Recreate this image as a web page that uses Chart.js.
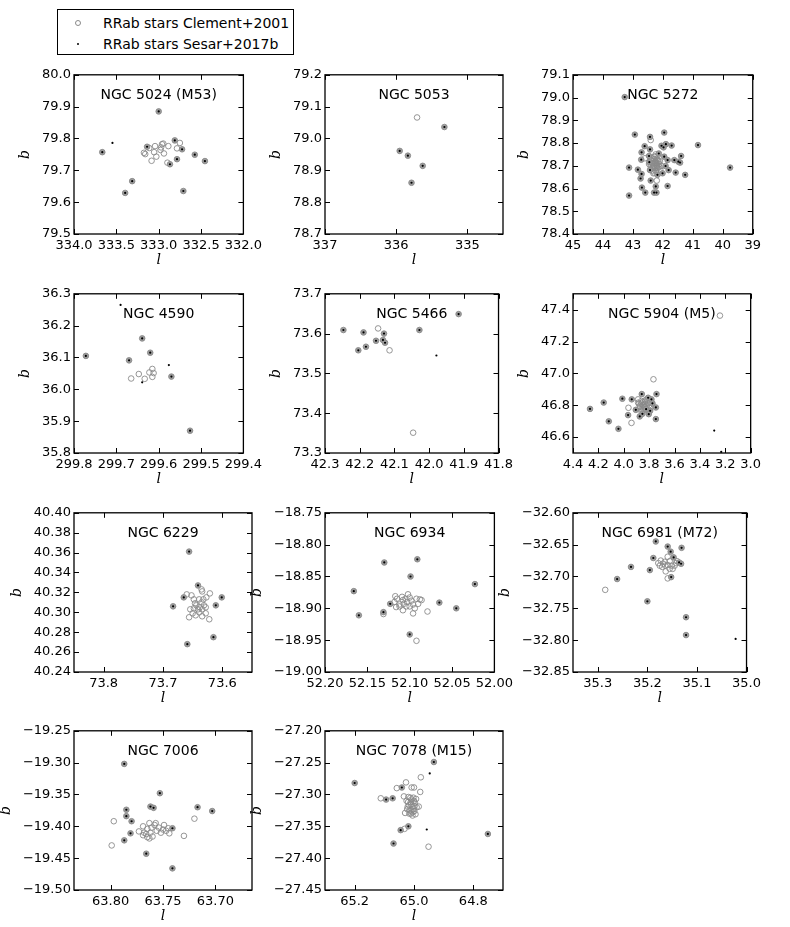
<!DOCTYPE html>
<html>
<head>
<meta charset="utf-8">
<script src="https://cdn.jsdelivr.net/npm/chart.js@4.4.1/dist/chart.umd.min.js"></script>
<style>
  body { margin: 0; background: #fff; }
  #fig { position: relative; width: 790px; height: 927px; font-family: "DejaVu Sans", sans-serif; }
  #fig canvas { position: absolute; }
  .legend { position: absolute; left: 57px; top: 9px; width: 235px; height: 44px; border: 1px solid #000; font-size: 14px; background: #fff; }
  .legend .row { position: absolute; left: 0; height: 18px; line-height: 18px; }
  .legend .txt { position: absolute; left: 45px; white-space: nowrap; }
  .legend .mk { position: absolute; border-radius: 50%; }
</style>
</head>
<body>
<div id="fig">
  <div class="legend">
    <div class="row" style="top:4px"><span class="mk" style="left:17px;top:6px;width:4px;height:4px;border:0.9px solid #8a8a8a"></span><span class="txt">RRab stars Clement+2001</span></div>
    <div class="row" style="top:25px"><span class="mk" style="left:19px;top:8px;width:2.2px;height:2.2px;background:#000"></span><span class="txt">RRab stars Sesar+2017b</span></div>
  </div>
</div>
<script>
// [l, b] pairs.  *_both: star in both catalogues
const ngc5024_both = [[333.00,79.885],[333.666,79.757],[333.137,79.774],[332.81,79.794],[332.724,79.766],[332.574,79.749],[332.454,79.729],[332.784,79.735],[332.867,79.719],[333.313,79.666],[333.396,79.629],[332.709,79.635]];
const ngc5024_clem = [[333.174,79.755],[333.159,79.751],[333.111,79.770],[333.043,79.776],[333.054,79.757],[333.084,79.730],[333.028,79.743],[332.979,79.764],[332.961,79.782],[332.946,79.784],[332.972,79.772],[332.938,79.753],[332.886,79.776],[332.750,79.786],[332.784,79.769],[332.897,79.724]];
const ngc5024_ses = [[333.546,79.786]];
const ngc5024_xticks = [334.0, 333.5, 333.0, 332.5, 332.0];
const ngc5024_yticks = [79.5, 79.6, 79.7, 79.8, 79.9, 80.0];

const ngc5053_both = [[335.323,79.036],[335.951,78.961],[335.836,78.946],[335.628,78.914],[335.785,78.861]];
const ngc5053_clem = [[335.707,79.066]];
const ngc5053_ses = [];
const ngc5053_xticks = [337, 336, 335];
const ngc5053_yticks = [78.7, 78.8, 78.9, 79.0, 79.1, 79.2];

const ngc5272_both = [[43.274,79.002],[42.936,78.837],[41.955,78.846],[40.827,78.791],[39.756,78.692],[43.128,78.692],[43.128,78.569],[41.256,78.660],[42.429,78.827],[42.609,78.786],[42.711,78.759],[42.722,78.727],[42.835,78.683],[42.711,78.664],[42.744,78.644],[42.699,78.604],[42.587,78.582],[42.293,78.582],[42.214,78.582],[42.237,78.609],[42.406,78.635],[41.842,78.611],[41.707,78.789],[41.899,78.795],[42.045,78.788],[41.617,78.725],[41.481,78.718],[41.808,78.681],[41.572,78.670],[41.391,78.743],[41.425,78.714],[42.429,78.772],[41.910,78.699],[41.842,78.725],[42.451,78.716],[42.429,78.681],[42.181,78.660],[42.011,78.667],[42.462,78.743],[42.136,78.754],[41.977,78.781],[41.955,78.740]];
const ngc5272_clem = [[42.406,78.813],[42.598,78.733],[42.203,78.635],[42.406,78.725],[42.293,78.728],[42.181,78.725],[42.350,78.711],[42.237,78.714],[42.124,78.708],[42.406,78.696],[42.293,78.693],[42.181,78.696],[42.350,78.679],[42.237,78.676],[42.090,78.684],[42.462,78.708],[42.271,78.740],[42.045,78.699],[42.316,78.667],[42.203,78.711],[42.383,78.733],
  [42.25,78.71],[42.30,78.70],[42.20,78.70],[42.25,78.72],[42.28,78.74],[42.22,78.68],[42.32,78.72],[42.15,78.72],[42.18,78.69],[42.34,78.69],[42.26,78.69],[42.21,78.73],[42.12,78.695],[42.36,78.71],[42.24,78.75],[42.29,78.67],[42.17,78.745],[42.10,78.72]];
const ngc5272_ses = [];
const ngc5272_xticks = [45, 44, 43, 42, 41, 40, 39];
const ngc5272_yticks = [78.4, 78.5, 78.6, 78.7, 78.8, 78.9, 79.0, 79.1];

const ngc4590_both = [[299.772,36.105],[299.639,36.160],[299.620,36.115],[299.670,36.091],[299.570,36.040],[299.526,35.870]];
const ngc4590_clem = [[299.665,36.034],[299.647,36.048],[299.633,36.033],[299.622,36.053],[299.615,36.064],[299.612,36.051],[299.615,36.039]];
const ngc4590_ses = [[299.690,36.265],[299.576,36.076],[299.639,36.022]];
const ngc4590_xticks = [299.8, 299.7, 299.6, 299.5, 299.4];
const ngc4590_yticks = [35.8, 35.9, 36.0, 36.1, 36.2, 36.3];

const ngc5466_both = [[42.247,73.609],[42.189,73.603],[42.130,73.600],[42.153,73.582],[42.133,73.584],[42.127,73.577],[42.182,73.567],[42.204,73.558],[42.028,73.609],[41.915,73.649]];
const ngc5466_clem = [[42.147,73.613],[42.114,73.558],[42.046,73.351]];
const ngc5466_ses = [[41.979,73.545]];
const ngc5466_xticks = [42.3, 42.2, 42.1, 42.0, 41.9, 41.8];
const ngc5466_yticks = [73.3, 73.4, 73.5, 73.6, 73.7];

const ngc5904_both = [[4.266,46.777],[4.158,46.817],[4.118,46.699],[4.042,46.652],[4.011,46.841],[3.966,46.738],[3.937,46.837],[3.858,46.870],[3.742,46.870],[3.747,46.786],[3.747,46.713],[3.792,46.765],[3.874,46.730],[3.853,46.746],[3.803,46.744],[3.824,46.775],[3.808,46.847],[3.782,46.837],[3.774,46.812],[3.905,46.771]];
const ngc5904_clem = [[3.242,47.363],[3.766,46.963],[3.939,46.689],[3.963,46.784],[3.887,46.816],[3.861,46.827],[3.834,46.821],[3.808,46.812],[3.874,46.796],[3.847,46.800],[3.821,46.792],[3.795,46.786],[3.861,46.775],[3.834,46.771],[3.887,46.837],[3.821,46.837],
  [3.85,46.80],[3.86,46.81],[3.84,46.79],[3.83,46.81],[3.87,46.79],[3.85,46.82],[3.85,46.78],[3.82,46.80],[3.88,46.81],[3.80,46.80],[3.86,46.76],[3.83,46.83]];
const ngc5904_ses = [[3.287,46.641],[3.232,46.507]];
const ngc5904_xticks = [4.4, 4.2, 4.0, 3.8, 3.6, 3.4, 3.2, 3.0];
const ngc5904_yticks = [46.6, 46.8, 47.0, 47.2, 47.4];

const ngc6229_both = [[73.656,40.361],[73.683,40.306],[73.665,40.315],[73.641,40.327],[73.601,40.315],[73.611,40.307],[73.615,40.275],[73.659,40.268]];
const ngc6229_clem = [[73.660,40.318],[73.652,40.317],[73.635,40.323],[73.634,40.321],[73.621,40.319],[73.627,40.315],[73.639,40.313],[73.648,40.313],[73.646,40.309],[73.644,40.307],[73.654,40.303],[73.650,40.299],[73.656,40.295],[73.645,40.297],[73.639,40.300],[73.634,40.303],[73.628,40.305],[73.631,40.307],[73.635,40.310],[73.632,40.313],[73.628,40.299],[73.634,40.296],[73.622,40.293],[73.638,40.305],[73.641,40.303],[73.648,40.304]];
const ngc6229_ses = [];
const ngc6229_xticks = [73.8, 73.7, 73.6];
const ngc6229_yticks = [40.24, 40.26, 40.28, 40.30, 40.32, 40.34, 40.36, 40.38, 40.40];

const ngc6934_both = [[52.130,-18.828],[52.091,-18.823],[52.099,-18.850],[52.166,-18.873],[52.023,-18.862],[52.160,-18.911],[52.131,-18.906],[52.123,-18.893],[52.065,-18.891],[52.045,-18.900],[52.100,-18.941]];
const ngc6934_clem = [[52.092,-18.951],[52.079,-18.905],[52.131,-18.909],[52.117,-18.881],[52.115,-18.885],[52.118,-18.890],[52.116,-18.898],[52.112,-18.894],[52.108,-18.887],[52.109,-18.882],[52.105,-18.885],[52.102,-18.878],[52.100,-18.883],[52.098,-18.888],[52.096,-18.894],[52.094,-18.900],[52.096,-18.908],[52.100,-18.897],[52.104,-18.897],[52.108,-18.903],[52.112,-18.897],[52.092,-18.885],[52.088,-18.886],[52.086,-18.887],[52.090,-18.893],[52.107,-18.893],[52.103,-18.890]];
const ngc6934_ses = [];
const ngc6934_xticks = [52.20, 52.15, 52.10, 52.05, 52.00];
const ngc6934_yticks = [-19.00, -18.95, -18.90, -18.85, -18.80, -18.75];

const ngc6981_both = [[35.183,-32.645],[35.159,-32.653],[35.153,-32.661],[35.131,-32.655],[35.147,-32.670],[35.188,-32.671],[35.136,-32.678],[35.132,-32.680],[35.233,-32.685],[35.195,-32.690],[35.261,-32.704],[35.152,-32.701],[35.200,-32.739],[35.122,-32.764],[35.122,-32.792]];
const ngc6981_clem = [[35.285,-32.721],[35.159,-32.703],[35.159,-32.669],[35.178,-32.679],[35.173,-32.675],[35.168,-32.680],[35.165,-32.677],[35.164,-32.683],[35.159,-32.682],[35.155,-32.676],[35.151,-32.683],[35.149,-32.688],[35.142,-32.679],[35.140,-32.676],[35.163,-32.692],[35.155,-32.688],[35.145,-32.683],[35.170,-32.685],[35.175,-32.683]];
const ngc6981_ses = [[35.022,-32.798]];
const ngc6981_xticks = [35.3, 35.2, 35.1, 35.0];
const ngc6981_yticks = [-32.85, -32.80, -32.75, -32.70, -32.65, -32.60];

const ngc7006_both = [[63.787,-19.302],[63.753,-19.348],[63.785,-19.374],[63.762,-19.369],[63.759,-19.371],[63.717,-19.370],[63.703,-19.376],[63.785,-19.384],[63.780,-19.392],[63.781,-19.411],[63.787,-19.422],[63.741,-19.403],[63.766,-19.443],[63.741,-19.466]];
const ngc7006_clem = [[63.797,-19.392],[63.799,-19.430],[63.720,-19.388],[63.730,-19.415],[63.773,-19.408],[63.769,-19.400],[63.768,-19.410],[63.766,-19.412],[63.765,-19.404],[63.763,-19.395],[63.762,-19.410],[63.760,-19.416],[63.761,-19.402],[63.758,-19.398],[63.757,-19.395],[63.756,-19.407],[63.754,-19.402],[63.752,-19.410],[63.750,-19.405],[63.749,-19.398],[63.747,-19.407],[63.745,-19.403],[63.744,-19.411],[63.765,-19.417],[63.763,-19.419],[63.769,-19.414]];
const ngc7006_ses = [];
const ngc7006_xticks = [63.80, 63.75, 63.70];
const ngc7006_yticks = [-19.50, -19.45, -19.40, -19.35, -19.30, -19.25];

const ngc7078_both = [[65.200,-27.282],[64.933,-27.249],[65.041,-27.289],[65.094,-27.308],[65.072,-27.306],[65.019,-27.350],[65.045,-27.356],[65.069,-27.377],[64.751,-27.362]];
const ngc7078_clem = [[64.951,-27.382],[64.977,-27.273],[65.027,-27.281],[65.058,-27.290],[65.008,-27.289],[65.000,-27.289],[64.979,-27.296],[65.112,-27.306],[64.984,-27.319],[65.032,-27.354],[65.034,-27.303],[65.019,-27.304],[65.002,-27.305],[64.993,-27.307],[65.025,-27.310],[65.011,-27.312],[64.997,-27.313],[65.017,-27.317],[65.005,-27.319],[64.991,-27.320],[65.023,-27.323],[65.011,-27.325],[64.999,-27.326],[65.016,-27.330],[65.005,-27.333],[65.030,-27.329],[64.995,-27.331],[65.008,-27.308],[65.021,-27.319],[65.002,-27.323],
  [65.010,-27.315],[65.000,-27.310],[65.015,-27.325],[65.005,-27.328],[65.020,-27.312],[64.998,-27.318],[65.010,-27.330],[65.012,-27.305]];
const ngc7078_ses = [[64.947,-27.267],[64.957,-27.355]];
const ngc7078_xticks = [65.2, 65.0, 64.8];
const ngc7078_yticks = [-27.45, -27.40, -27.35, -27.30, -27.25, -27.20];

const panels = [
  { name: 'NGC 5024 (M53)', both: ngc5024_both, clem: ngc5024_clem, ses: ngc5024_ses, xt: ngc5024_xticks, yt: ngc5024_yticks, xr: [332, 334], yr: [79.5, 80.0], xd: 1, yd: 1, col: 0, row: 0 },
  { name: 'NGC 5053', both: ngc5053_both, clem: ngc5053_clem, ses: ngc5053_ses, xt: ngc5053_xticks, yt: ngc5053_yticks, xr: [334.5, 337], yr: [78.7, 79.2], xd: 0, yd: 1, col: 1, row: 0 },
  { name: 'NGC 5272', both: ngc5272_both, clem: ngc5272_clem, ses: ngc5272_ses, xt: ngc5272_xticks, yt: ngc5272_yticks, xr: [39, 45], yr: [78.4, 79.1], xd: 0, yd: 1, col: 2, row: 0 },
  { name: 'NGC 4590', both: ngc4590_both, clem: ngc4590_clem, ses: ngc4590_ses, xt: ngc4590_xticks, yt: ngc4590_yticks, xr: [299.4, 299.8], yr: [35.8, 36.3], xd: 1, yd: 1, col: 0, row: 1 },
  { name: 'NGC 5466', both: ngc5466_both, clem: ngc5466_clem, ses: ngc5466_ses, xt: ngc5466_xticks, yt: ngc5466_yticks, xr: [41.8, 42.3], yr: [73.3, 73.7], xd: 1, yd: 1, col: 1, row: 1 },
  { name: 'NGC 5904 (M5)', both: ngc5904_both, clem: ngc5904_clem, ses: ngc5904_ses, xt: ngc5904_xticks, yt: ngc5904_yticks, xr: [3.0, 4.4], yr: [46.5, 47.5], xd: 1, yd: 1, col: 2, row: 1 },
  { name: 'NGC 6229', both: ngc6229_both, clem: ngc6229_clem, ses: ngc6229_ses, xt: ngc6229_xticks, yt: ngc6229_yticks, xr: [73.55, 73.85], yr: [40.24, 40.40], xd: 1, yd: 2, col: 0, row: 2 },
  { name: 'NGC 6934', both: ngc6934_both, clem: ngc6934_clem, ses: ngc6934_ses, xt: ngc6934_xticks, yt: ngc6934_yticks, xr: [52.00, 52.20], yr: [-19.00, -18.75], xd: 2, yd: 2, col: 1, row: 2 },
  { name: 'NGC 6981 (M72)', both: ngc6981_both, clem: ngc6981_clem, ses: ngc6981_ses, xt: ngc6981_xticks, yt: ngc6981_yticks, xr: [35.0, 35.35], yr: [-32.85, -32.60], xd: 1, yd: 2, col: 2, row: 2 },
  { name: 'NGC 7006', both: ngc7006_both, clem: ngc7006_clem, ses: ngc7006_ses, xt: ngc7006_xticks, yt: ngc7006_yticks, xr: [63.665, 63.835], yr: [-19.50, -19.25], xd: 2, yd: 2, col: 0, row: 3 },
  { name: 'NGC 7078 (M15)', both: ngc7078_both, clem: ngc7078_clem, ses: ngc7078_ses, xt: ngc7078_xticks, yt: ngc7078_yticks, xr: [64.7, 65.3], yr: [-27.45, -27.20], xd: 1, yd: 2, col: 1, row: 3 }
];

// plot boxes in page pixels
const lefts = [74, 325, 573];
const tops = [74, 293, 512, 730];
const PW = 178, PH = 160;
const PL = 95, PT = 10, CW = PL + PW + 14, CH = PT + PH + 48;

const grey = '#8a8a8a';
const tickFont = { family: 'DejaVu Sans', size: 13 };
const labFont = { family: 'DejaVu Serif', style: 'italic', size: 14 };

const fmt = (v, d) => v.toFixed(d).replace('-', '\u2212');
const xy = arr => arr.map(([l, b]) => ({ x: l, y: b }));

// box, inward ticks on all four sides, name inside the axes
const frame = {
  id: 'frame',
  afterDatasetsDraw(chart, args, opts) {
    const { ctx, chartArea: a, scales: { x, y } } = chart;
    ctx.save();
    ctx.strokeStyle = '#000';
    ctx.lineWidth = 1;
    ctx.beginPath();
    x.ticks.forEach(t => {
      const p = Math.round(x.getPixelForValue(t.value)) + 0.5;
      ctx.moveTo(p, a.bottom); ctx.lineTo(p, a.bottom - 5);
      ctx.moveTo(p, a.top); ctx.lineTo(p, a.top + 5);
    });
    y.ticks.forEach(t => {
      const p = Math.round(y.getPixelForValue(t.value)) + 0.5;
      ctx.moveTo(a.left, p); ctx.lineTo(a.left + 5, p);
      ctx.moveTo(a.right, p); ctx.lineTo(a.right - 5, p);
    });
    ctx.stroke();
    ctx.lineWidth = 1.3;
    ctx.strokeRect(a.left, a.top, a.right - a.left, a.bottom - a.top);
    ctx.fillStyle = '#000';
    ctx.font = '14px "DejaVu Sans"';
    ctx.textAlign = 'center';
    ctx.textBaseline = 'middle';
    ctx.fillText(opts.text, (a.left + a.right) / 2, a.top + 21);
    ctx.restore();
  }
};

const fig = document.getElementById('fig');

panels.forEach(p => {
  const cv = document.createElement('canvas');
  cv.width = CW; cv.height = CH;
  cv.style.width = CW + 'px'; cv.style.height = CH + 'px';
  cv.style.left = (lefts[p.col] - PL) + 'px';
  cv.style.top = (tops[p.row] - PT) + 'px';
  fig.appendChild(cv);

  const pad = { left: 0, top: 0, right: 0, bottom: 0 };
  const chart = new Chart(cv, {
    type: 'scatter',
    data: {
      datasets: [
        { label: 'RRab stars Sesar+2017b', data: xy(p.both.concat(p.ses)),
          pointRadius: 1.1, pointBackgroundColor: '#000', pointBorderWidth: 0 },
        { label: 'RRab stars Clement+2001 (also Sesar)', data: xy(p.both),
          pointRadius: 2.8, pointBackgroundColor: '#9c9c9c', pointBorderColor: grey, pointBorderWidth: 0.9 },
        { label: 'RRab stars Clement+2001', data: xy(p.clem),
          pointRadius: 2.8, pointBackgroundColor: 'rgba(0,0,0,0)', pointBorderColor: grey, pointBorderWidth: 0.9 }
      ]
    },
    options: {
      responsive: false,
      animation: false,
      events: [],
      layout: { padding: pad },
      plugins: { legend: { display: false }, tooltip: { enabled: false }, frame: { text: p.name } },
      scales: {
        x: {
          type: 'linear', reverse: true, min: p.xr[0], max: p.xr[1],
          afterBuildTicks: s => { s.ticks = p.xt.map(v => ({ value: v })); },
          grid: { display: false, drawTicks: false }, border: { display: false },
          ticks: { color: '#000', font: tickFont, padding: 4, autoSkip: false, maxRotation: 0,
                   callback: v => fmt(v, p.xd) },
          title: { display: true, text: 'l', color: '#000', font: labFont, padding: { top: -6, bottom: 0 } }
        },
        y: {
          type: 'linear', min: p.yr[0], max: p.yr[1],
          afterBuildTicks: s => { s.ticks = p.yt.map(v => ({ value: v })); },
          grid: { display: false, drawTicks: false }, border: { display: false },
          ticks: { color: '#000', font: tickFont, padding: 3, autoSkip: false,
                   callback: v => fmt(v, p.yd) },
          title: { display: true, text: 'b', color: '#000', font: labFont, padding: { top: 0, bottom: 5 } }
        }
      }
    },
    plugins: [frame]
  });

  // pin the plot box to its place in the page
  for (let k = 0; k < 3; k++) {
    const a = chart.chartArea;
    pad.left += PL - a.left;
    pad.top += PT - a.top;
    pad.right += a.right - (PL + PW);
    pad.bottom += a.bottom - (PT + PH);
    chart.options.layout.padding = { left: pad.left, top: pad.top, right: pad.right, bottom: pad.bottom };
    chart.update('none');
  }
});
</script>
</body>
</html>
